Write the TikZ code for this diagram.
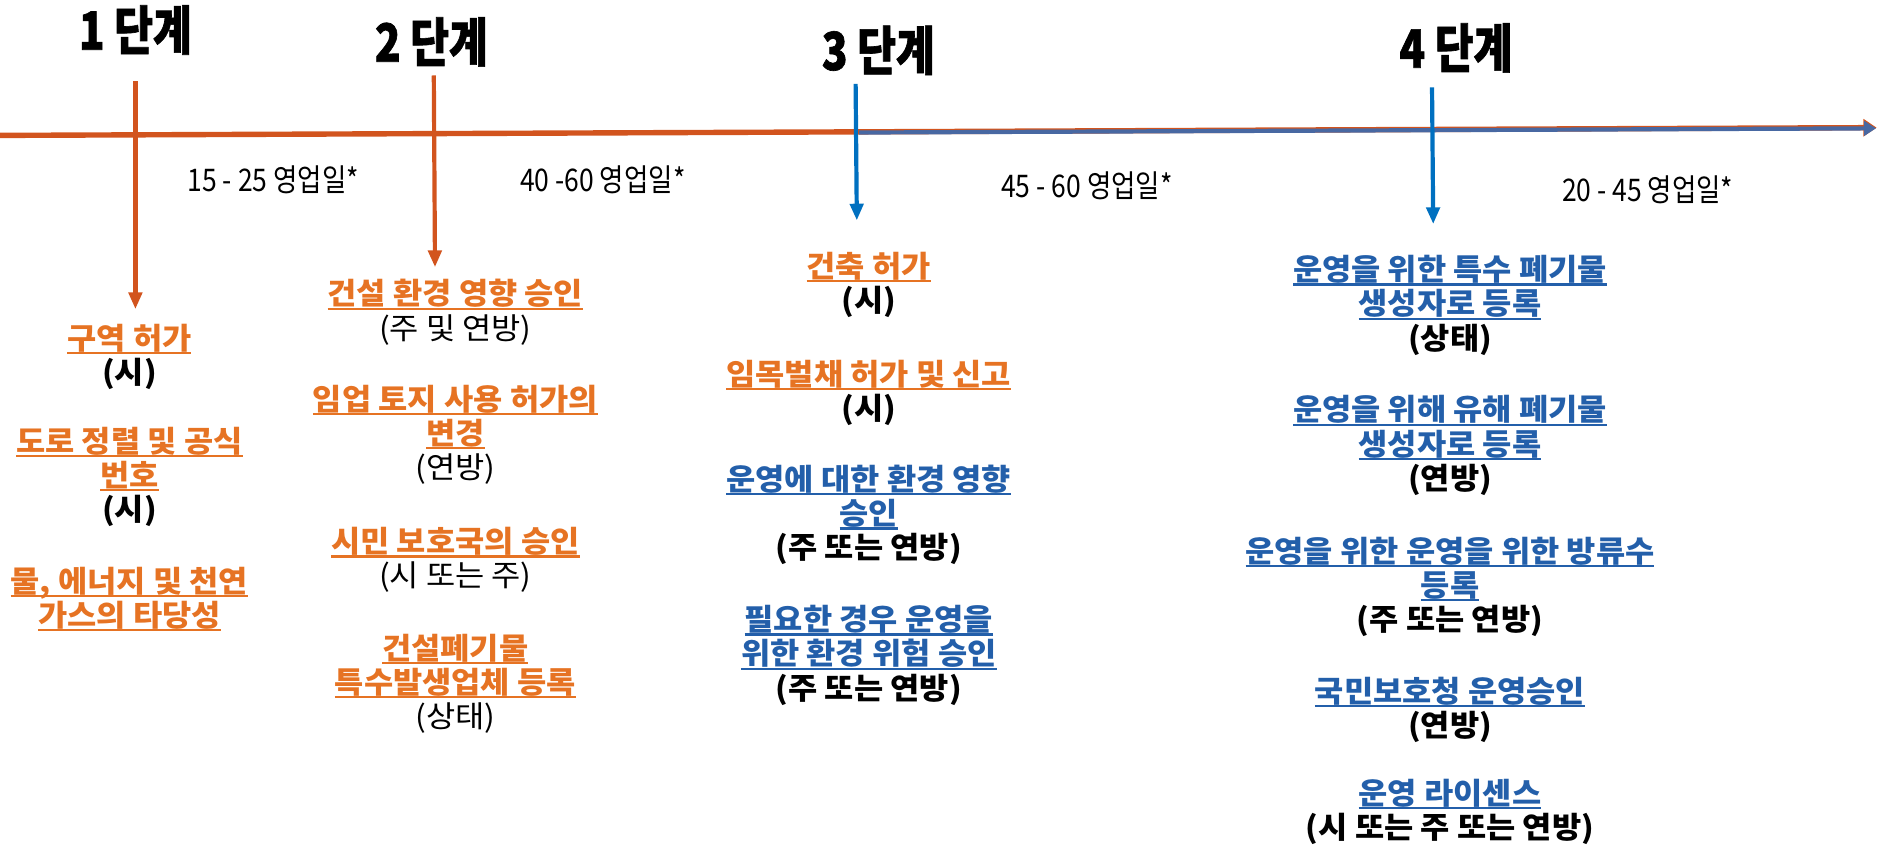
\documentclass[tikz,border=0pt]{standalone}
\usepackage{fontspec}
\setmainfont{Noto Sans CJK KR}[FakeStretch=1.06]
\newfontfamily\stagefont{Noto Sans CJK KR}[FakeStretch=0.8,FakeBold=1.2]
\newfontfamily\daysfont{Noto Sans CJK KR}[FakeStretch=0.85]
\usetikzlibrary{arrows.meta}

\definecolor{lineorange}{RGB}{210,84,30}
\definecolor{textorange}{RGB}{230,115,35}
\definecolor{textblue}{RGB}{35,95,170}
\definecolor{arrowblue}{RGB}{0,112,192}
\definecolor{lineblue}{RGB}{72,104,162}

\newcommand{\undl}[1]{\setbox0\hbox{#1}\rlap{\rule[-4pt]{\wd0}{1.8pt}}\box0}

\tikzset{
  stagelabel/.style={inner sep=0pt, font=\stagefont\bfseries\fontsize{44}{48}\selectfont},
  days/.style={inner sep=0pt, font=\daysfont\fontsize{26}{30}\selectfont},
  permit/.style={align=center, anchor=north, inner sep=0pt, font=\bfseries\fontsize{25}{28.5}\selectfont},
  orangetxt/.style={permit, text=textorange},
  bluetxt/.style={permit, text=textblue},
  stagearrow/.style={line width=3.5pt, -{Triangle[width=11pt,length=14pt]}}
}

\begin{document}
\begin{tikzpicture}[x=1pt,y=-1pt]
%\draw [help lines,black!20!white] (0,0) grid[step=100] (1568,708);
\useasboundingbox (0,0) rectangle (1568,708);

% time line
\coordinate (tstart) at (0,113);
\coordinate (tmid) at (717,110);
\coordinate (tend) at (1566,106.5);
\draw[lineorange, line width=4.5pt, -{Triangle[width=14pt,length=11pt]}] (tstart) -- (tend);
\draw[lineblue, line width=3.5pt, -{Triangle[width=12pt,length=10pt]}] ([yshift=-0.6pt]tmid) -- ([xshift=-0.5pt,yshift=-0.6pt]tend);

% stages
\node[stagelabel] (st1) at (113,25) {1 단계};
\node[stagelabel] (st2) at (360,35) {2 단계};
\node[stagelabel] (st3) at (733,42) {3 단계};
\node[stagelabel] (st4) at (1215,40) {4 단계};

\coordinate (a1top) at (113,68);  \coordinate (a1tip) at (113,258);
\coordinate (a2top) at (362,63);  \coordinate (a2tip) at (363,223);
\coordinate (a3top) at (714,70);  \coordinate (a3tip) at (715,184);
\coordinate (a4top) at (1195,73); \coordinate (a4tip) at (1196,187);
\draw[stagearrow, lineorange] (a1top) -- (a1tip);
\draw[stagearrow, lineorange] (a2top) -- (a2tip);
\draw[stagearrow, arrowblue] (a3top) -- (a3tip);
\draw[stagearrow, arrowblue] (a4top) -- (a4tip);

% durations
\node[days] (d1) at (228,150) {15 - 25 영업일*};
\node[days] (d2) at (503,150) {40 -60 영업일*};
\node[days] (d3) at (907,155) {45 - 60 영업일*};
\node[days] (d4) at (1375,158) {20 - 45 영업일*};

% stage 1
\node[orangetxt] (p1a) at (108,270) {\undl{구역 허가}\\{\color{black}(시)}};
\node[orangetxt] (p1b) at (108,356) {\undl{도로 정렬 및 공식}\\\undl{번호}\\{\color{black}(시)}};
\node[orangetxt] (p1c) at (108,473) {\undl{물, 에너지 및 천연}\\\undl{가스의 타당성}};

% stage 2
\node[orangetxt] (p2a) at (380,233) {\undl{건설 환경 영향 승인}\\{\color{black}\mdseries(주 및 연방)}};
\node[orangetxt] (p2b) at (380,321) {\undl{임업 토지 사용 허가의}\\\undl{변경}\\{\color{black}\mdseries(연방)}};
\node[orangetxt] (p2c) at (380,440) {\undl{시민 보호국의 승인}\\{\color{black}\mdseries(시 또는 주)}};
\node[orangetxt] (p2d) at (380,529) {\undl{건설폐기물}\\\undl{특수발생업체 등록}\\{\color{black}\mdseries(상태)}};

% stage 3
\node[orangetxt] (p3a) at (725,210) {\undl{건축 허가}\\{\color{black}(시)}};
\node[orangetxt] (p3b) at (725,300) {\undl{임목벌채 허가 및 신고}\\{\color{black}(시)}};
\node[bluetxt] (p3c) at (725,388) {\undl{운영에 대한 환경 영향}\\\undl{승인}\\{\color{black}(주 또는 연방)}};
\node[bluetxt] (p3d) at (725,505) {\undl{필요한 경우 운영을}\\\undl{위한 환경 위험 승인}\\{\color{black}(주 또는 연방)}};

% stage 4
\node[bluetxt] (p4a) at (1210,213) {\undl{운영을 위한 특수 폐기물}\\\undl{생성자로 등록}\\{\color{black}(상태)}};
\node[bluetxt] (p4b) at (1210,330) {\undl{운영을 위해 유해 폐기물}\\\undl{생성자로 등록}\\{\color{black}(연방)}};
\node[bluetxt] (p4c) at (1210,448) {\undl{운영을 위한 운영을 위한 방류수}\\\undl{등록}\\{\color{black}(주 또는 연방)}};
\node[bluetxt] (p4d) at (1210,565) {\undl{국민보호청 운영승인}\\{\color{black}(연방)}};
\node[bluetxt] (p4e) at (1210,650) {\undl{운영 라이센스}\\{\color{black}(시 또는 주 또는 연방)}};

\end{tikzpicture}
\end{document}
